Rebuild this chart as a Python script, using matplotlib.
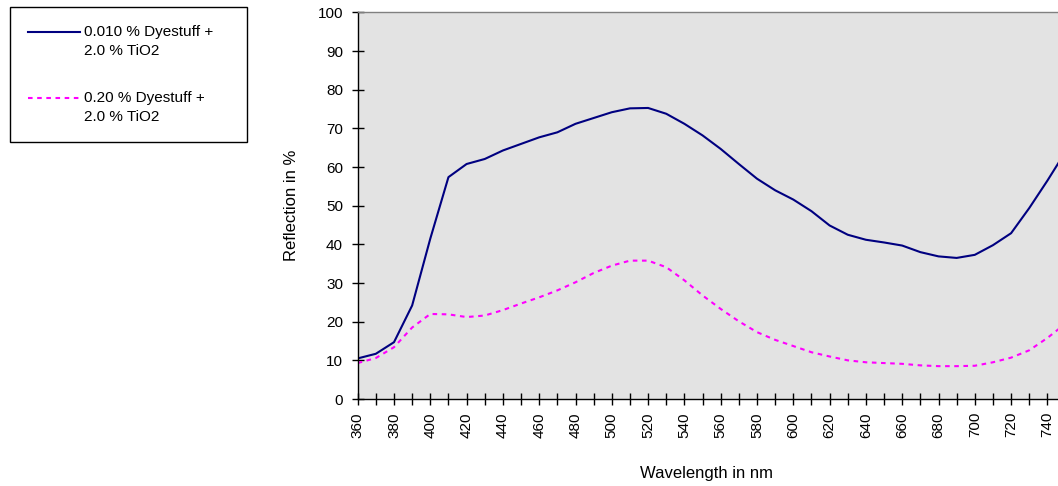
#!/usr/bin/env python3
# reflection curves of two dye/TiO2 mixtures, Excel style chart
import matplotlib
matplotlib.use("Agg")
import matplotlib.pyplot as plt
import numpy as np
from matplotlib.ticker import MultipleLocator

plt.rcParams["font.family"] = ["Liberation Sans", "DejaVu Sans"]

# wavelength in nm, one point every 10 nm
wavelength = [360, 370, 380, 390, 400, 410, 420, 430, 440, 450,
              460, 470, 480, 490, 500, 510, 520, 530, 540, 550,
              560, 570, 580, 590, 600, 610, 620, 630, 640, 650,
              660, 670, 680, 690, 700, 710, 720, 730, 740, 750]

# reflection in % for 0.010 % dyestuff + 2.0 % TiO2
refl_low = [10.5, 11.7, 14.7, 24.2, 41.5, 57.4, 60.8, 62.1, 64.3, 66.0,
            67.7, 69.0, 71.2, 72.7, 74.2, 75.2, 75.3, 73.8, 71.2, 68.2,
            64.7, 60.8, 57.0, 54.0, 51.6, 48.6, 44.9, 42.5, 41.2, 40.5,
            39.7, 38.0, 36.9, 36.5, 37.3, 39.8, 42.9, 49.4, 56.5, 64.0]

# reflection in % for 0.20 % dyestuff + 2.0 % TiO2
refl_high = [9.3, 10.6, 13.4, 18.5, 22.0, 21.9, 21.2, 21.6, 23.0, 24.7,
             26.3, 28.1, 30.2, 32.6, 34.5, 35.8, 35.8, 34.1, 30.7, 26.8,
             23.3, 20.1, 17.3, 15.3, 13.7, 12.1, 11.0, 10.0, 9.5, 9.3,
             9.1, 8.7, 8.5, 8.5, 8.6, 9.5, 10.7, 12.6, 15.8, 19.5]

labels = ["0.010 % Dyestuff +\n2.0 % TiO2", "0.20 % Dyestuff +\n2.0 % TiO2"]

W, H = 1058, 486
fig = plt.figure(figsize=(W / 100, H / 100), dpi=100)
# plot area in pixels: left 357.7, top 12.5, bottom 399, runs off the right edge
ax = fig.add_axes([357.7 / W, 1 - 399 / H, 1 - 357.7 / W, (399 - 12.5) / H])
ax.set_facecolor("#e3e3e3")

l1, = ax.plot(wavelength, refl_low, color="#000080", lw=1.5)
l2, = ax.plot(wavelength, refl_high, color="#ff00ff", lw=1.5,
              linestyle=(0, (2.2, 2.2)))

ax.set_xlim(360, 360 + (W - 357.7) / 1.815)
ax.set_ylim(0, 100)
ax.xaxis.set_major_locator(MultipleLocator(20))
ax.xaxis.set_minor_locator(MultipleLocator(10))
ax.yaxis.set_major_locator(MultipleLocator(10))

ax.tick_params(axis="both", which="both", direction="inout", length=8,
               width=1, color="black", labelsize=11)
ax.tick_params(axis="x", which="major", pad=5.4, labelrotation=90)
ax.tick_params(axis="y", which="major", pad=6.6)

for side in ["left", "bottom"]:
    ax.spines[side].set_color("black")
    ax.spines[side].set_linewidth(1)
ax.spines["top"].set_color("#808080")
ax.spines["top"].set_linewidth(1)
ax.spines["right"].set_visible(False)

fig.text(292 / W, 1 - 205.7 / H, "Reflection in %", rotation=90,
         ha="center", va="center", fontsize=12)
fig.text(707 / W, 1 - 473 / H, "Wavelength in nm",
         ha="center", va="center", fontsize=12)

leg = fig.legend([l1, l2], labels, loc="upper left",
                 bbox_to_anchor=(10 / W, 1 - 142 / H, 237 / W, 135 / H),
                 mode="expand", borderaxespad=0, fontsize=11,
                 handlelength=3.4, handletextpad=0.25, labelspacing=2.2,
                 borderpad=1.2, fancybox=False, framealpha=1)
leg.get_frame().set_edgecolor("black")
leg.get_frame().set_linewidth(1)
for t in leg.get_texts():
    t.set_linespacing(1.4)
# Excel puts the legend line beside the first text line, not the middle
for line in leg.get_lines():
    line.set_ydata(np.asarray(line.get_ydata()) + 6.8)

fig.savefig("out.png", dpi=100)
plt.close(fig)
